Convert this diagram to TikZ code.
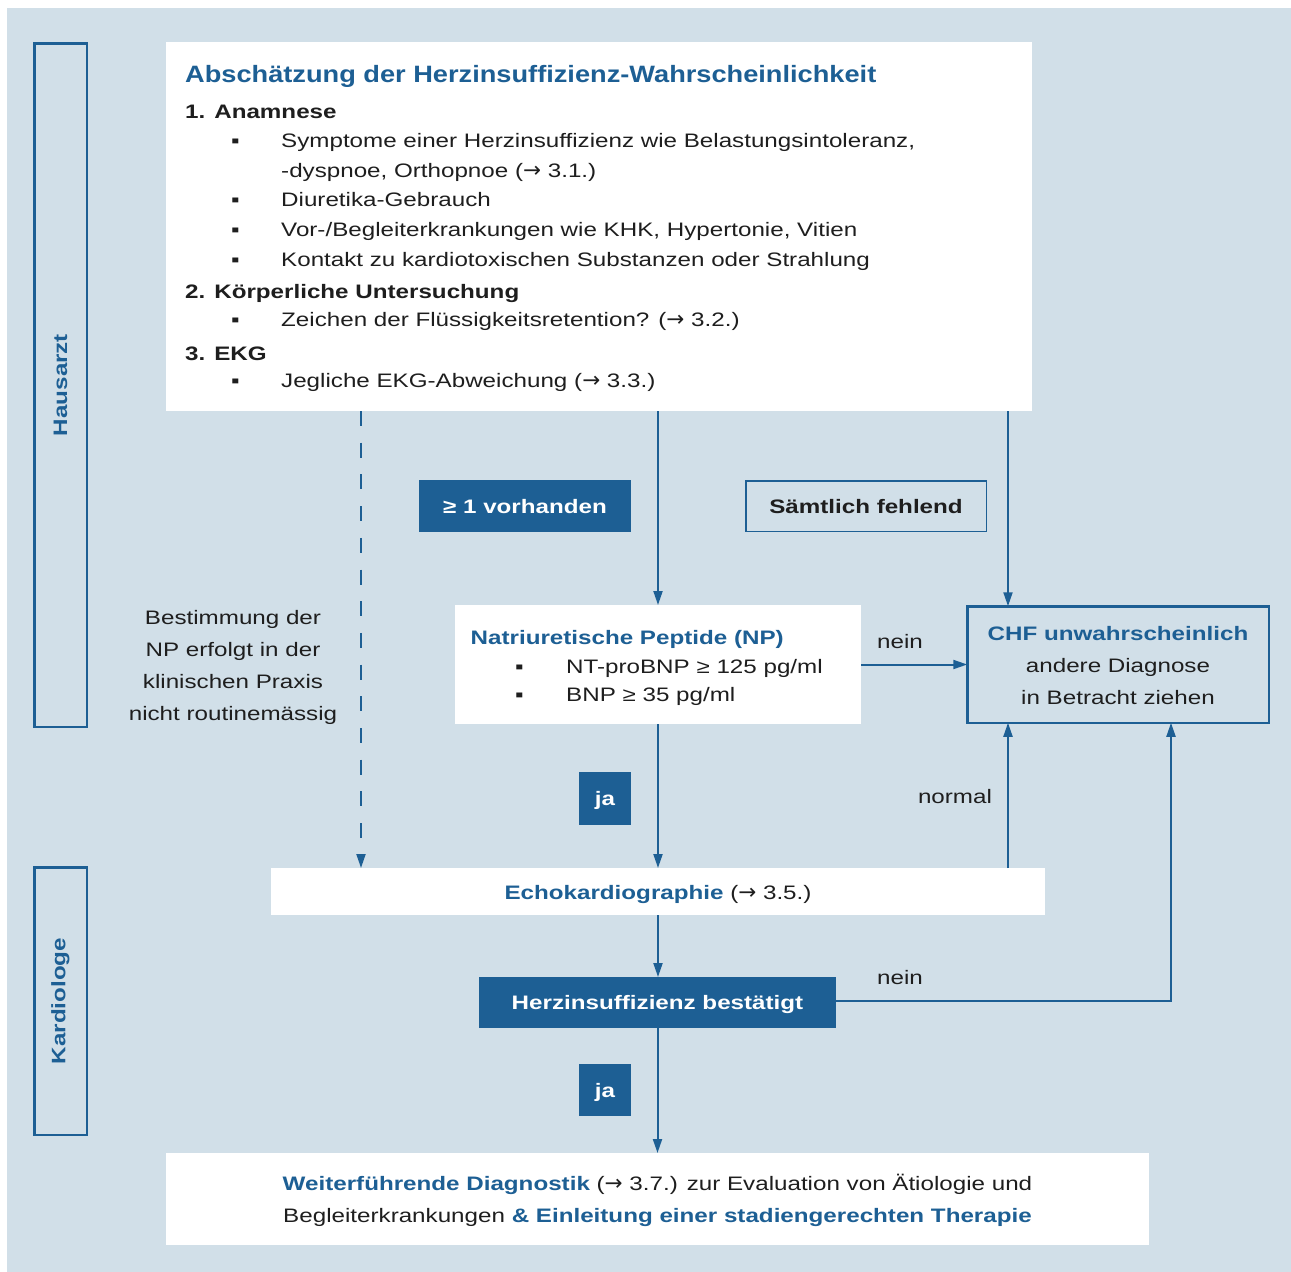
\documentclass[tikz,border=0pt]{standalone}
\usepackage{fontspec}
\setmainfont{Liberation Sans}[FakeStretch=1.24]
\newfontfamily\titlefam{Liberation Sans}[FakeStretch=1.15]
\newfontfamily\symfam{DejaVu Sans}
\usetikzlibrary{arrows.meta}
\definecolor{hblue}{HTML}{1D5F94}
\definecolor{bgc}{HTML}{D1DFE8}
\definecolor{txtc}{HTML}{1E1E1E}
\newcommand\bodyf{\fontsize{19.5}{32}\selectfont}
\newcommand\titlef{\titlefam\fontsize{23.65}{28}\selectfont\bfseries}
\newcommand\rarr{{\symfam\fontsize{21.5}{32}\selectfont →}}
\tikzset{
  wbox/.style={fill=white, draw=none, inner sep=0pt, outer sep=0pt},
  lane/.style={draw=hblue, line width=2.5pt, inner sep=0pt, outer sep=0pt},
  bluebox/.style={fill=hblue, text=white, font=\bodyf\bfseries, inner sep=0pt, outer sep=0pt, text height=14pt, text depth=0pt},
  obox/.style={draw=hblue, line width=1.5pt, inner sep=0pt, outer sep=0pt, text=txtc, font=\bodyf\bfseries, text height=14pt, text depth=0pt},
  txt/.style={inner sep=0pt, anchor=base west, font=\bodyf, text=txtc},
  hd/.style={txt, font=\bodyf\bfseries},
  bul/.style={txt},
  lbl/.style={inner sep=0pt, font=\bodyf, text=txtc, align=center},
  conn/.style={draw=hblue, line width=2pt, -{Triangle[length=14pt,width=9pt]}},
  lanelbl/.style={rotate=90, inner sep=0pt, font=\bodyf\bfseries, text=hblue},
}
\begin{document}
\begin{tikzpicture}[x=1pt,y=-1pt]
\useasboundingbox (0,0) rectangle (1291,1272);
\fill[bgc] (7,8) rectangle (1291,1272);

% lanes
\node[lane, minimum width=52.5pt, minimum height=683.5pt] (haus) at (60.5,385) {};
\node[lanelbl] (hausl) at (haus.center) {Hausarzt};
\node[lane, minimum width=52.5pt, minimum height=267.5pt] (kard) at (60.5,1001) {};
\node[lanelbl] (kardl) at (kard.center) {Kardiologe};

% boxes
\node[wbox, minimum width=866pt, minimum height=369pt] (top) at (599,226.5) {};
\node[wbox, minimum width=406pt, minimum height=119pt] (np) at (658,664.5) {};
\node[lane, minimum width=301.5pt, minimum height=116.5pt] (chf) at (1118,664.5) {};
\node[wbox, minimum width=774pt, minimum height=47pt] (echo) at (658,891.5) {};
\node[bluebox, minimum width=357pt, minimum height=51pt] (herz) at (657.5,1002.5) {Herzinsuffizienz bestätigt};
\node[wbox, minimum width=983pt, minimum height=92pt] (final) at (657.5,1199) {};
\node[bluebox, minimum width=212pt, minimum height=52pt] (vorh) at (525,506) {≥ 1 vorhanden};
\node[obox, minimum width=240.5pt, minimum height=50.5pt] (saemt) at (866,506) {Sämtlich fehlend};
\node[bluebox, minimum width=52pt, minimum height=53pt] (ja1) at (605,798.5) {ja};
\node[bluebox, minimum width=52pt, minimum height=52pt] (ja2) at (605,1090) {ja};

% top box content
\node[inner sep=0pt, anchor=base west, font=\titlef, text=hblue] (title) at (185,82) {Abschätzung der Herzinsuffizienz-Wahrscheinlichkeit};
\node[hd] (h1) at (185,118) {1. Anamnese};
\node[bul] (b1) at (231,147.5) {▪};
\node[txt] (t1) at (281,147.5) {Symptome einer Herzinsuffizienz wie Belastungsintoleranz,};
\node[txt] (t1b) at (281,177) {-dyspnoe, Orthopnoe (\rarr\ 3.1.)};
\node[bul] (b2) at (231,206.5) {▪};
\node[txt] (t2) at (281,206.5) {Diuretika-Gebrauch};
\node[bul] (b3) at (231,236.5) {▪};
\node[txt] (t3) at (281,236.5) {Vor-/Begleiterkrankungen wie KHK, Hypertonie, Vitien};
\node[bul] (b4) at (231,266) {▪};
\node[txt] (t4) at (281,266) {Kontakt zu kardiotoxischen Substanzen oder Strahlung};
\node[hd] (h2) at (185,298.5) {2. Körperliche Untersuchung};
\node[bul] (b5) at (231,326) {▪};
\node[txt] (t5) at (281,326) {Zeichen der Flüssigkeitsretention? (\rarr\ 3.2.)};
\node[hd] (h3) at (185,360) {3. EKG};
\node[bul] (b6) at (231,387.5) {▪};
\node[txt] (t6) at (281,387.5) {Jegliche EKG-Abweichung (\rarr\ 3.3.)};

% NP content
\node[hd, text=hblue] (npt) at (470.5,644) {Natriuretische Peptide (NP)};
\node[bul] (nb1) at (515,673.3) {▪};
\node[txt] (nt1) at (566,673.3) {NT-proBNP ≥ 125 pg/ml};
\node[bul] (nb2) at (515,701.7) {▪};
\node[txt] (nt2) at (566,701.7) {BNP ≥ 35 pg/ml};

% CHF content
\node[lbl] (chft) at ([yshift=-1pt]chf.center) {{\color{hblue}\bfseries CHF unwahrscheinlich}\\andere Diagnose\\in Betracht ziehen};

% Echo content
\node[lbl] (echot) at ([yshift=-3pt]echo.center) {{\color{hblue}\bfseries Echokardiographie} (\rarr\ 3.5.)};

% Final content
\node[lbl] (finalt) at ([yshift=-1pt]final.center) {{\color{hblue}\bfseries Weiterführende Diagnostik} (\rarr\ 3.7.) zur Evaluation von Ätiologie und\\Begleiterkrankungen {\color{hblue}\bfseries \& Einleitung einer stadiengerechten Therapie}};

% side note
\node[lbl] (best) at (233,667) {Bestimmung der\\NP erfolgt in der\\klinischen Praxis\\nicht routinemässig};

% connector labels
\node[lbl] (nein1) at (900,642) {nein};
\node[lbl] (norm) at (955,797) {normal};
\node[lbl] (nein2) at (900,978) {nein};

% helper coordinates
\coordinate (xd) at (361,0);
\coordinate (xr) at (1008,0);
\coordinate (xr2) at (1171,0);

% connectors
\draw[conn, dash pattern=on 15pt off 16.7pt] (top.south -| xd) -- (echo.north -| xd);
\draw[conn] (top.south -| np.north) -- (np.north);
\draw[conn] (top.south -| xr) -- (chf.north -| xr);
\draw[conn] (np.east) -- (np.east -| chf.west);
\draw[conn] (np.south) -- (echo.north);
\draw[conn] (echo.north -| xr) -- (chf.south -| xr);
\draw[conn] (echo.south) -- (echo.south |- herz.north);
\draw[conn] ([yshift=2pt]herz.east) -| (chf.south -| xr2);
\draw[conn] (herz.south) -- (herz.south |- final.north);
\end{tikzpicture}
\end{document}
